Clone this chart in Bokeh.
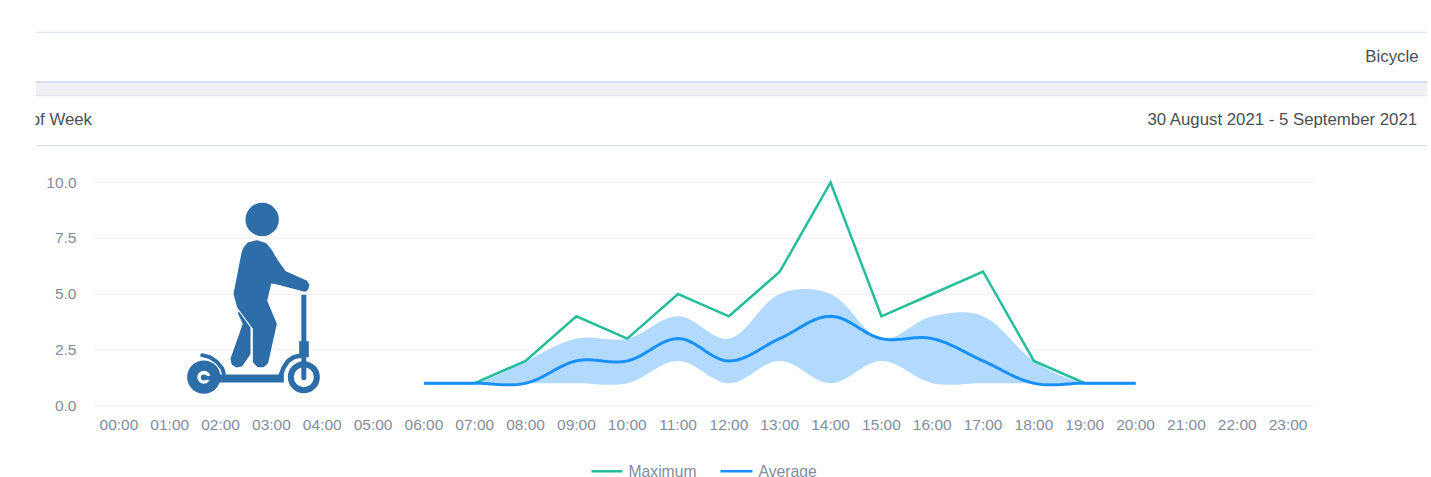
from bokeh.plotting import figure
from bokeh.models import Range1d, FixedTicker
from bokeh.core.properties import value
from bokeh.embed import file_html
from bokeh.resources import INLINE
import numpy as np

# ---- data ----
hours = [f"{h:02d}:00" for h in range(24)]
y_ticks = [0, 2.5, 5, 7.5, 10]
y_labels = ["0.0", "2.5", "5.0", "7.5", "10.0"]
active_hours = list(range(6, 21))
maximum = [1, 1, 2, 4, 3, 5, 4, 6, 10, 4, 5, 6, 2, 1, 1]
average = [1, 1, 1, 2, 2, 3, 2, 3, 4, 3, 3, 2, 1, 1, 1]
band_high = [1, 1, 2, 3, 3, 4, 3, 5, 5, 3, 4, 4, 2, 1, 1]
band_low = [1, 1, 1, 1, 1, 2, 1, 2, 1, 2, 1, 1, 1, 1, 1]
headers = ["Bicycle", "Day of Week", "30 August 2021 - 5 September 2021"]
legend_names = ["Maximum", "Average"]

FONT = "Liberation Sans"
GREEN = "#26bd9a"
BLUE = "#1890ff"
BAND = "#b2daff"
TICK = "#828d9e"
ICON = "#2d6da8"

W = 1431
LEFT, RIGHT, TOP, BOTTOM = 93, 1313, 182, 405   # plot frame in page pixels
PAD = 3                                          # room so the 0 and 10 grid lines are not clipped
UNIT = (BOTTOM - TOP) / 10
HEAD_BOTTOM = 150
CHART_BOTTOM = 445
PAGE_BOTTOM = 477

# ---- header strip ----
head = figure(width=W, height=HEAD_BOTTOM, toolbar_location=None, output_backend="svg",
              x_range=Range1d(35, 1427), y_range=Range1d(HEAD_BOTTOM, 0),
              min_border_left=35, min_border_right=4, min_border_top=0, min_border_bottom=0,
              outline_line_color=None)
head.axis.visible = False
head.grid.visible = False
head.quad(left=[35], right=[1427], top=[82], bottom=[95], fill_color="#f0f1f4", line_color=None)
for yy, col, lw in [(32, "#e4e8ee", 1.5), (81.5, "#cdd6e2", 1.5), (95, "#e1e6ee", 1.5), (145, "#d6dce9", 1.2)]:
    head.segment([35], [yy], [1427], [yy], line_color=col, line_width=lw)
for label, xx, yy in [(headers[0], 1418, 56), (headers[1], 91.5, 118.5), (headers[2], 1417.5, 118.5)]:
    head.text(x=[xx], y=[yy], text=[label], text_font=value(FONT), text_font_size="16.8px",
              text_color="#4a4f57", text_align="right", text_baseline="middle")

# ---- chart ----
p = figure(width=W, height=CHART_BOTTOM - HEAD_BOTTOM, toolbar_location=None, output_backend="svg",
           x_range=Range1d(-0.5, 23.5), y_range=Range1d(-PAD / UNIT, 10 + PAD / UNIT),
           min_border_left=LEFT, min_border_right=W - RIGHT,
           min_border_top=TOP - PAD - HEAD_BOTTOM, min_border_bottom=CHART_BOTTOM - BOTTOM - PAD,
           outline_line_color=None)
p.extra_x_ranges = {"px": Range1d(LEFT, RIGHT)}
p.extra_y_ranges = {"px": Range1d(BOTTOM + PAD, TOP - PAD)}

p.xgrid.visible = False
p.ygrid.ticker = FixedTicker(ticks=y_ticks)
p.ygrid.grid_line_color = "#f2f3f5"
p.ygrid.grid_line_width = 1.5

p.xaxis.ticker = FixedTicker(ticks=list(range(24)))
p.xaxis.major_label_overrides = {i: h for i, h in enumerate(hours)}
p.yaxis.ticker = FixedTicker(ticks=y_ticks)
p.yaxis.major_label_overrides = dict(zip(y_ticks, y_labels))
for ax in (p.xaxis, p.yaxis):
    ax.axis_line_color = None
    ax.major_tick_line_color = None
    ax.minor_tick_line_color = None
    ax.major_label_text_color = TICK
    ax.major_label_text_font = FONT
    ax.major_label_text_font_size = "15.5px"
p.xaxis.major_label_standoff = 1
p.yaxis.major_label_standoff = 11


def smooth(xs, ys, k=0.35, n=24):
    """Curve through the read values (bezier smoothing, in pixel space)."""
    sx = (RIGHT - LEFT) / 24
    P = np.column_stack([np.array(xs, float) * sx, np.array(ys, float) * UNIT])
    c0, c1 = P.copy(), P.copy()
    for i in range(1, len(P) - 1):
        v = P[i + 1] - P[i - 1]
        d0 = np.linalg.norm(P[i] - P[i - 1])
        d1 = np.linalg.norm(P[i + 1] - P[i])
        s = d0 + d1
        c0[i] = P[i] - v * (d0 / s) * k
        c1[i] = P[i] + v * (d1 / s) * k
    out = []
    for i in range(len(P) - 1):
        t = np.linspace(0, 1, n)[:, None]
        out.append((1 - t) ** 3 * P[i] + 3 * (1 - t) ** 2 * t * c1[i]
                   + 3 * (1 - t) * t ** 2 * c0[i + 1] + t ** 3 * P[i + 1])
    C = np.vstack(out)
    return C[:, 0] / sx, C[:, 1] / UNIT


hx, hy = smooth(active_hours, band_high)
lx, ly = smooth(active_hours, band_low)
p.patch(np.concatenate([hx, lx[::-1]]), np.concatenate([hy, ly[::-1]]),
        fill_color=BAND, fill_alpha=1, line_color=None)
p.line(active_hours, maximum, line_color=GREEN, line_width=2.5, line_join="miter")
ax_, ay_ = smooth(active_hours, average)
p.line(ax_, ay_, line_color=BLUE, line_width=3)

# ---- legend strip (cut by the bottom edge of the page, as in the reference) ----
leg = figure(width=W, height=PAGE_BOTTOM - CHART_BOTTOM, toolbar_location=None, output_backend="svg",
             x_range=Range1d(0, W), y_range=Range1d(PAGE_BOTTOM, CHART_BOTTOM),
             min_border_left=0, min_border_right=0, min_border_top=0, min_border_bottom=0,
             outline_line_color=None)
leg.axis.visible = False
leg.grid.visible = False
for name, col, x0, x1 in [(legend_names[0], GREEN, 591, 622), (legend_names[1], BLUE, 720, 752)]:
    leg.segment([x0], [470.7], [x1], [470.7], line_color=col, line_width=2.6)
    leg.text(x=[x1 + 6], y=[471], text=[name], text_font=value(FONT), text_font_size="15.7px",
             text_color=TICK, text_align="left", text_baseline="middle")

# ---- scooter rider icon (decoration, in page pixels of the reference) ----
def zx(v): return [170 + a / 3 for a in v]
def zy(v): return [190 + a / 3 for a in v]

PX = dict(x_range_name="px", y_range_name="px")
body_x = [216, 222, 234, 260, 285, 300, 317, 343, 407, 414, 410, 403, 321, 300, 287, 316, 290, 278, 262, 250, 250, 203, 192]
body_y = [187, 172, 158, 152, 160, 178, 207, 244, 273, 284, 296, 301, 279, 275, 331, 400, 517, 527, 527, 514, 414, 350, 310]
p.patch(zx(body_x), zy(body_y), fill_color=ICON, line_color=ICON, line_width=2, line_join="round", **PX)
leg_x = [205, 220, 183, 186, 198, 213, 237, 237]
leg_y = [368, 400, 505, 520, 528, 525, 490, 412]
p.patch(zx(leg_x), zy(leg_y), fill_color=ICON, line_color=ICON, line_width=2, line_join="round", **PX)
p.circle(x=zx([275]), y=zy([87]), radius=16.7, radius_units="screen",
         fill_color=ICON, line_color=None, **PX)
# stem, block and fork
p.segment(zx([400]), zy([313]), zx([400]), zy([455]), line_color=ICON, line_width=5, **PX)
p.quad(left=zx([386]), right=zx([415]), top=zy([452]), bottom=zy([500]),
       fill_color=ICON, line_color=None, **PX)
p.segment(zx([400]), zy([495]), zx([400]), zy([562]), line_color=ICON, line_width=5,
          line_cap="round", **PX)
# deck and front mudguard
p.segment(zx([135]), zy([564]), zx([340]), zy([564]), line_color=ICON, line_width=8, **PX)
mud_x = [330, 340, 352, 370, 392]
mud_y = [556, 530, 512, 500, 495]
p.line(zx(mud_x), zy(mud_y), line_color=ICON, line_width=4.5, **PX)
# wheels
p.annulus(x=zx([400]), y=zy([560]), inner_radius=10, outer_radius=16,
          inner_radius_units="screen", outer_radius_units="screen",
          fill_color=ICON, line_color=None, **PX)
p.annulus(x=zx([100]), y=zy([560]), inner_radius=6.5, outer_radius=16.7,
          inner_radius_units="screen", outer_radius_units="screen",
          fill_color=ICON, line_color=None, **PX)
p.circle(x=zx([100]), y=zy([561]), radius=3, radius_units="screen",
         fill_color=ICON, line_color=None, **PX)
p.segment(zx([100]), zy([561]), zx([135]), zy([564]), line_color=ICON, line_width=4, **PX)
# rear mudguard
fender_x = [95, 118, 140, 155, 160]
fender_y = [494, 500, 515, 533, 550]
p.line(zx(fender_x), zy(fender_y), line_color=ICON, line_width=4, line_cap="round", **PX)

open("out.html", "w").write(file_html([head, p, leg], INLINE))
